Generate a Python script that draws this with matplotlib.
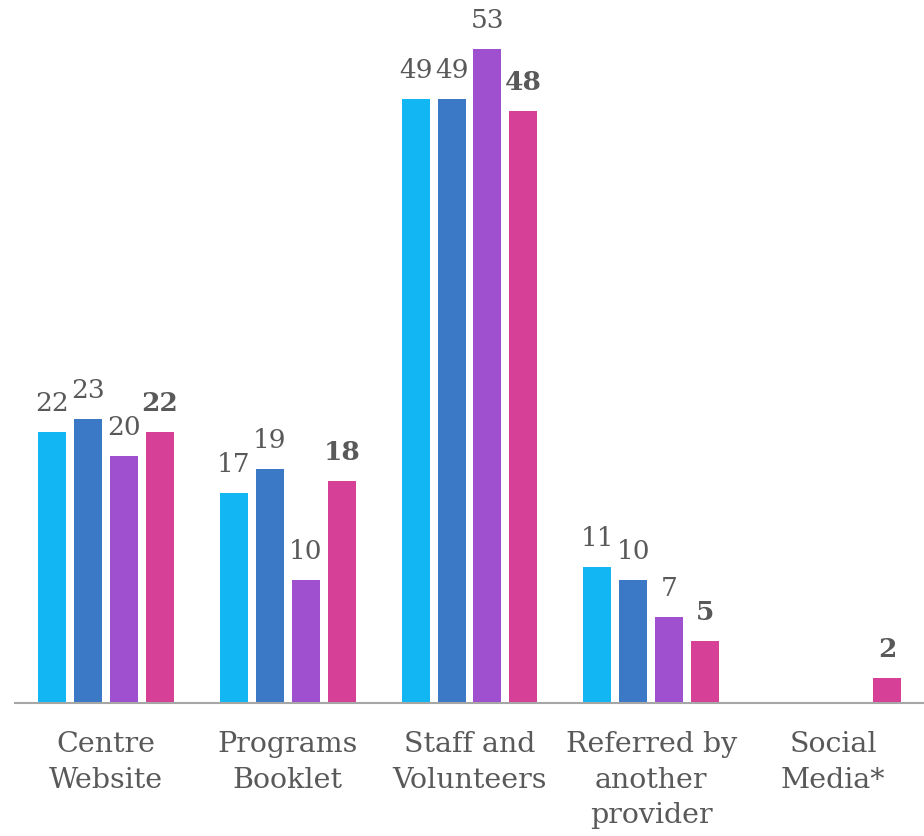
import numpy as np
import matplotlib
matplotlib.use("Agg")
import matplotlib.pyplot as plt

categories = ["Centre\nWebsite", "Programs\nBooklet", "Staff and\nVolunteers",
              "Referred by\nanother\nprovider", "Social\nMedia*"]
wave_1 = [22, 17, 49, 11, None]
wave_2 = [23, 19, 49, 10, None]
wave_3 = [20, 10, 53, 7, None]
wave_4 = [22, 18, 48, 5, 2]

series = [wave_1, wave_2, wave_3, wave_4]
colors = ["#12B6F2", "#3B78C5", "#9E50CF", "#D64096"]
text_color = "#595959"

plt.rcParams["font.family"] = ["DejaVu Serif"]

fig = plt.figure(figsize=(9.24, 8.36), dpi=100)
ax = fig.add_axes([15 / 924, 133 / 836, 909 / 924, 703 / 836])

x = np.arange(len(categories))
bar_w = 28 / 182
step = 36 / 182
offsets = (np.arange(len(series)) - 1.5) * step

for i, (vals, col) in enumerate(zip(series, colors)):
    last = i == len(series) - 1
    for xi, v in zip(x, vals):
        if v is None:
            continue
        ax.bar(xi + offsets[i], v, width=bar_w, color=col, edgecolor="none")
        ax.annotate(str(v), (xi + offsets[i], v), xytext=(0, 11.5),
                    textcoords="offset points", ha="center", va="bottom",
                    fontsize=19, color=text_color,
                    fontweight="bold" if last else "normal")

ax.set_xlim(-0.5, 4.5)
ax.set_ylim(0, 57)
ax.set_xticks(x)
ax.set_xticklabels(categories, fontsize=20.5, color=text_color, linespacing=1.42)
ax.tick_params(axis="x", length=0, pad=20)
ax.set_yticks([])
for side in ["left", "right", "top"]:
    ax.spines[side].set_visible(False)
ax.spines["bottom"].set_color("#A6A6A6")
ax.spines["bottom"].set_linewidth(1.5)

fig.savefig("out.png", dpi=100)
